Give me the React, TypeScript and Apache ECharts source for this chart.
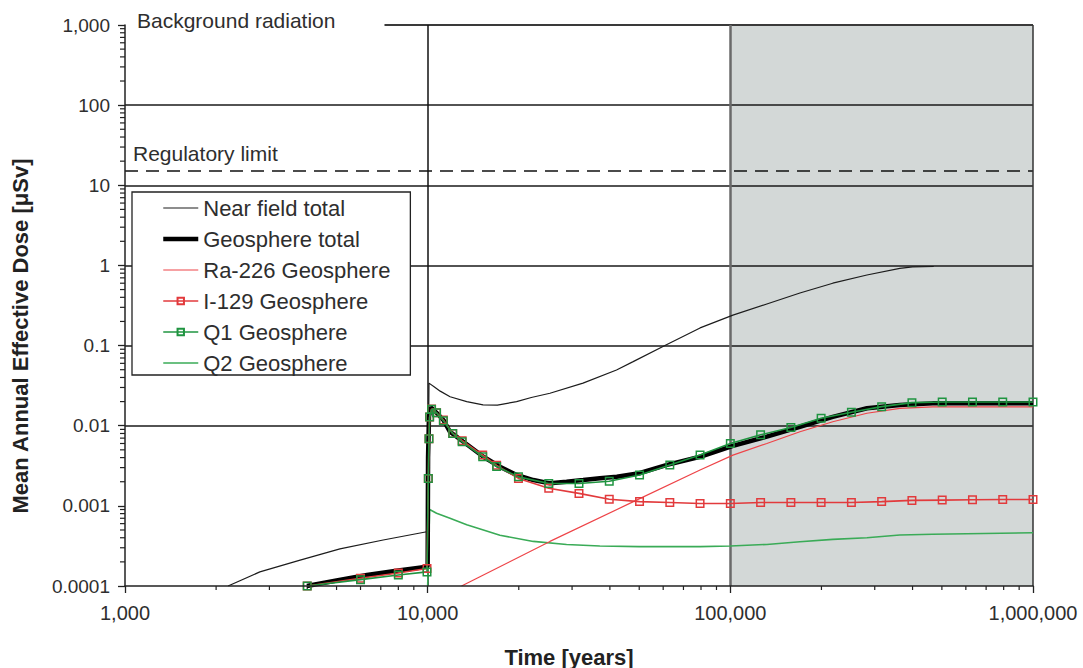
import React, { useEffect, useRef } from "react";
import * as echarts from "echarts";

const FONT = '"Liberation Sans", Arial, Helvetica, sans-serif';

// ---- axis / reference values ----
const timeMin = 1000;
const timeMax = 1000000;
const doseMin = 0.0001;
const doseMax = 1000;
const decadeLines = [100, 10, 1, 0.1, 0.01, 0.001];
const regulatoryLimit = 15;
const backgroundRadiation = 1000;
const backgroundLineStart = 7200;
const closureTime = 10000;
const shadedStart = 100000;
const shadedEnd = 1000000;

// ---- series names ----
const seriesNames = [
  "Near field total",
  "Geosphere total",
  "Ra-226 Geosphere",
  "I-129 Geosphere",
  "Q1 Geosphere",
  "Q2 Geosphere",
];

// ---- Near field total ----
const nearFieldTime = [2190, 2790, 3790, 5130, 7130, 9930, 10000, 10100, 10500, 11000, 11860, 13460, 15240, 17000, 19670, 22000, 25350, 32600, 42070, 47750, 60800, 79430, 102000, 132000, 169800, 218000, 282700, 363000, 400000, 470000];
const nearFieldDose = [0.0001, 0.00015, 0.00021, 0.00029, 0.000375, 0.000475, 0.00048, 0.034, 0.0307, 0.027, 0.023, 0.020, 0.0182, 0.0181, 0.020, 0.0225, 0.0254, 0.034, 0.0495, 0.063, 0.10, 0.166, 0.24, 0.33, 0.453, 0.60, 0.76, 0.92, 0.96, 0.97];

// ---- Geosphere total ----
const totalTime = [3990, 5000, 6300, 8000, 9950, 10000, 10030, 10100, 10250, 10700, 11270, 11850, 13120, 15280, 17330, 19670, 22340, 25350, 28770, 32640, 37050, 42180, 50000, 61800, 79430, 102000, 132000, 169800, 218000, 282700, 363000, 466000, 1000000];
const totalDose = [0.0001, 0.000117, 0.000137, 0.000156, 0.000174, 0.00018, 0.004, 0.013, 0.017, 0.0145, 0.0118, 0.0084, 0.0063, 0.0041, 0.00308, 0.00243, 0.0021, 0.00191, 0.002, 0.0021, 0.00221, 0.00231, 0.00255, 0.00324, 0.0041, 0.0056, 0.0073, 0.0097, 0.0129, 0.0165, 0.0181, 0.019, 0.019];

// ---- Ra-226 Geosphere ----
const raTime = [12940, 25350, 47640, 79430, 102000, 132000, 169800, 218000, 282700, 363000, 466000, 1000000];
const raDose = [0.0001, 0.00036, 0.00112, 0.0028, 0.0043, 0.006, 0.0084, 0.0112, 0.0143, 0.0165, 0.0172, 0.0172];

// ---- I-129 and Q1 Geosphere (marked series) ----
const markerTime = [4000, 6000, 8000, 9950, 10050, 10100, 10150, 10300, 10700, 11270, 12100, 13000, 15200, 16900, 19950, 25120, 31620, 39810, 50120, 63100, 79430, 100000, 125900, 158500, 199500, 251200, 316200, 398100, 501200, 631000, 794300, 1000000];
const i129Dose = [0.0001, 0.000125, 0.000145, 0.000165, 0.0022, 0.0069, 0.0128, 0.0162, 0.0145, 0.0118, 0.008, 0.0065, 0.0043, 0.0032, 0.0022, 0.00166, 0.00143, 0.00121, 0.00113, 0.0011, 0.00107, 0.00107, 0.0011, 0.0011, 0.0011, 0.0011, 0.00113, 0.00117, 0.00118, 0.00119, 0.0012, 0.0012];
const q1Dose = [0.0001, 0.00012, 0.000137, 0.00015, 0.0022, 0.0069, 0.0128, 0.016, 0.0145, 0.0115, 0.008, 0.0063, 0.0041, 0.0031, 0.0023, 0.0019, 0.0019, 0.00203, 0.00243, 0.00324, 0.0043, 0.006, 0.0077, 0.0095, 0.0124, 0.0147, 0.0173, 0.0194, 0.0198, 0.0198, 0.0198, 0.0198];

// ---- Q2 Geosphere ----
const q2Time = [10000, 10150, 10700, 11850, 13460, 15280, 17330, 22340, 28770, 37050, 50000, 79430, 100000, 132000, 169800, 218000, 282700, 363000, 466000, 1000000];
const q2Dose = [0.0001, 0.0009, 0.00081, 0.0007, 0.00058, 0.0005, 0.00043, 0.00036, 0.00033, 0.000315, 0.00031, 0.00031, 0.000315, 0.00033, 0.000357, 0.000382, 0.0004, 0.000432, 0.000443, 0.000462];

const minorMultipliers = [2, 3, 4, 5, 6, 7, 8, 9];
const xDecades = [3, 4, 5];
const yDecades = [-4, -3, -2, -1, 0, 1, 2];

const RED = "#e23a3c";
const RED_LIGHT = "#ee4448";
const GREEN = "#1f9440";
const GREEN_LIGHT = "#3aab57";

const pairs = (t: number[], v: number[]) => t.map((x, i) => [x, v[i]]);

const fmt = (v: number) =>
  Number(v).toLocaleString("en-US", { maximumFractionDigits: 4 });

export default function App() {
  const ref = useRef<HTMLDivElement>(null);

  useEffect(() => {
    const chart = echarts.init(ref.current!, null, { renderer: "svg" });

    const lineSeries = (name: string, data: number[][], color: string, width: number, extra: any = {}) => ({
      name,
      type: "line",
      data,
      z: 3,
      symbol: "none",
      showSymbol: false,
      smooth: false,
      silent: true,
      lineStyle: { color, width },
      itemStyle: { color },
      ...extra,
    });

    const markedSeries = (name: string, data: number[][], color: string) =>
      lineSeries(name, data, color, 1.6, {
        symbol: "rect",
        showSymbol: true,
        showAllSymbol: true,
        symbolSize: 7.5,
        itemStyle: { color: "rgba(255,255,255,0)", borderColor: color, borderWidth: 1.5 },
      });

    const hiddenSymbol = { opacity: 0, color: "rgba(0,0,0,0)", borderWidth: 0 };

    const option: any = {
      animation: false,
      backgroundColor: "#ffffff",
      textStyle: { fontFamily: FONT },
      grid: { left: 125, top: 25, width: 908, height: 561, containLabel: false, outerBoundsMode: "none" },
      xAxis: {
        type: "log",
        logBase: 10,
        min: timeMin,
        max: timeMax,
        z: 6,
        axisLine: { show: true, lineStyle: { color: "#222", width: 1.5 } },
        axisTick: { show: true, inside: false, length: 7, lineStyle: { color: "#222", width: 1.3 } },
        axisLabel: { margin: 17, fontSize: 20, color: "#2e2e2e", fontFamily: FONT, formatter: fmt },
        splitLine: { show: false },
        minorTick: { show: false },
      },
      yAxis: {
        type: "log",
        logBase: 10,
        min: doseMin,
        max: doseMax,
        z: 6,
        axisLine: { show: true, lineStyle: { color: "#222", width: 1.5 } },
        axisTick: { show: true, inside: false, length: 7, lineStyle: { color: "#222", width: 1.3 } },
        axisLabel: { margin: 15, fontSize: 19, color: "#2e2e2e", fontFamily: FONT, formatter: fmt },
        splitLine: { show: false },
        minorTick: { show: false },
      },
      legend: {
        show: true,
        orient: "vertical",
        left: 132,
        top: 192,
        selectedMode: false,
        backgroundColor: "#ffffff",
        borderColor: "#222",
        borderWidth: 1.3,
        borderRadius: 0,
        padding: [5, 20, 1, 29],
        itemGap: 9,
        itemWidth: 35,
        itemHeight: 8,
        z: 10,
        textStyle: { fontSize: 22, color: "#2e2e2e", fontFamily: FONT },
        data: [
          { name: seriesNames[0], lineStyle: { width: 1.2 }, itemStyle: hiddenSymbol },
          { name: seriesNames[1], lineStyle: { width: 4.5 }, itemStyle: hiddenSymbol },
          { name: seriesNames[2], lineStyle: { width: 1.2 }, itemStyle: hiddenSymbol },
          { name: seriesNames[3], lineStyle: { width: 1.5 } },
          { name: seriesNames[4], lineStyle: { width: 1.5 } },
          { name: seriesNames[5], lineStyle: { width: 1.5 }, itemStyle: hiddenSymbol },
        ],
      },
      series: [
        {
          type: "line",
          data: [],
          silent: true,
          z: 1,
          markArea: {
            silent: true,
            z: 1,
            itemStyle: { color: "#d3d8d7" },
            data: [[{ xAxis: shadedStart }, { xAxis: shadedEnd }]],
          },
        },
        {
          type: "line",
          data: [],
          silent: true,
          z: 2,
          markLine: {
            silent: true,
            z: 2,
            symbol: ["none", "none"],
            label: { show: false },
            animation: false,
            lineStyle: { color: "#1a1a1a", width: 1.5, type: "solid" },
            data: [
              ...decadeLines.map((v) => ({ yAxis: v })),
              [
                { coord: [backgroundLineStart, backgroundRadiation], lineStyle: { color: "#3a3a3a", width: 2 } },
                { coord: [timeMax, backgroundRadiation] },
              ],
              { yAxis: regulatoryLimit, lineStyle: { color: "#111", width: 1.5, type: [13, 8] } },
              { xAxis: closureTime, lineStyle: { color: "#111", width: 1.5 } },
              { xAxis: shadedStart, lineStyle: { color: "#6a6a6a", width: 2.5 } },
              { xAxis: shadedEnd, lineStyle: { color: "#333", width: 1.5 } },
            ],
          },
        },
        lineSeries(seriesNames[0], pairs(nearFieldTime, nearFieldDose), "#1c1c1c", 1.2),
        lineSeries(seriesNames[5], pairs(q2Time, q2Dose), GREEN_LIGHT, 1.6),
        lineSeries(seriesNames[1], pairs(totalTime, totalDose), "#000000", 4.5),
        lineSeries(seriesNames[2], pairs(raTime, raDose), RED_LIGHT, 1.2),
        markedSeries(seriesNames[3], pairs(markerTime, i129Dose), RED),
        markedSeries(seriesNames[4], pairs(markerTime, q1Dose), GREEN),
      ],
    };

    chart.setOption(option);

    const gx = (v: number) => chart.convertToPixel({ xAxisIndex: 0 } as any, v) as number;
    const gy = (v: number) => chart.convertToPixel({ yAxisIndex: 0 } as any, v) as number;

    const x0 = gx(timeMin);
    const y0 = gy(doseMin);
    const graphics: any[] = [];

    xDecades.forEach((d) =>
      minorMultipliers.forEach((k) => {
        const px = gx(k * Math.pow(10, d));
        graphics.push({
          type: "line",
          silent: true,
          shape: { x1: px, y1: y0, x2: px, y2: y0 + 4 },
          style: { stroke: "#222", lineWidth: 1.2 },
        });
      })
    );
    yDecades.forEach((d) =>
      minorMultipliers.forEach((k) => {
        const py = gy(k * Math.pow(10, d));
        graphics.push({
          type: "line",
          silent: true,
          shape: { x1: x0 - 5, y1: py, x2: x0, y2: py },
          style: { stroke: "#222", lineWidth: 1.2 },
        });
      })
    );

    graphics.push(
      {
        type: "text",
        silent: true,
        x: x0 + 12,
        y: gy(backgroundRadiation) - 5,
        style: { text: "Background radiation", font: `21px ${FONT}`, fill: "#2e2e2e", align: "left", verticalAlign: "middle" },
      },
      {
        type: "text",
        silent: true,
        x: x0 + 8,
        y: gy(regulatoryLimit) - 18,
        style: { text: "Regulatory limit", font: `21px ${FONT}`, fill: "#2e2e2e", align: "left", verticalAlign: "middle" },
      },
      {
        type: "text",
        silent: true,
        x: 20,
        y: 336,
        rotation: Math.PI / 2,
        style: { text: "Mean Annual Effective Dose [μSv]", font: `bold 22px ${FONT}`, fill: "#222", align: "center", verticalAlign: "middle" },
      },
      {
        type: "text",
        silent: true,
        x: 569,
        y: 657,
        style: { text: "Time [years]", font: `bold 22px ${FONT}`, fill: "#222", align: "center", verticalAlign: "middle" },
      }
    );

    chart.setOption({ graphic: graphics });

    return () => chart.dispose();
  }, []);

  return (
    <div
      ref={ref}
      style={{ position: "fixed", left: 0, top: 0, width: 1083, height: 668 }}
    />
  );
}
